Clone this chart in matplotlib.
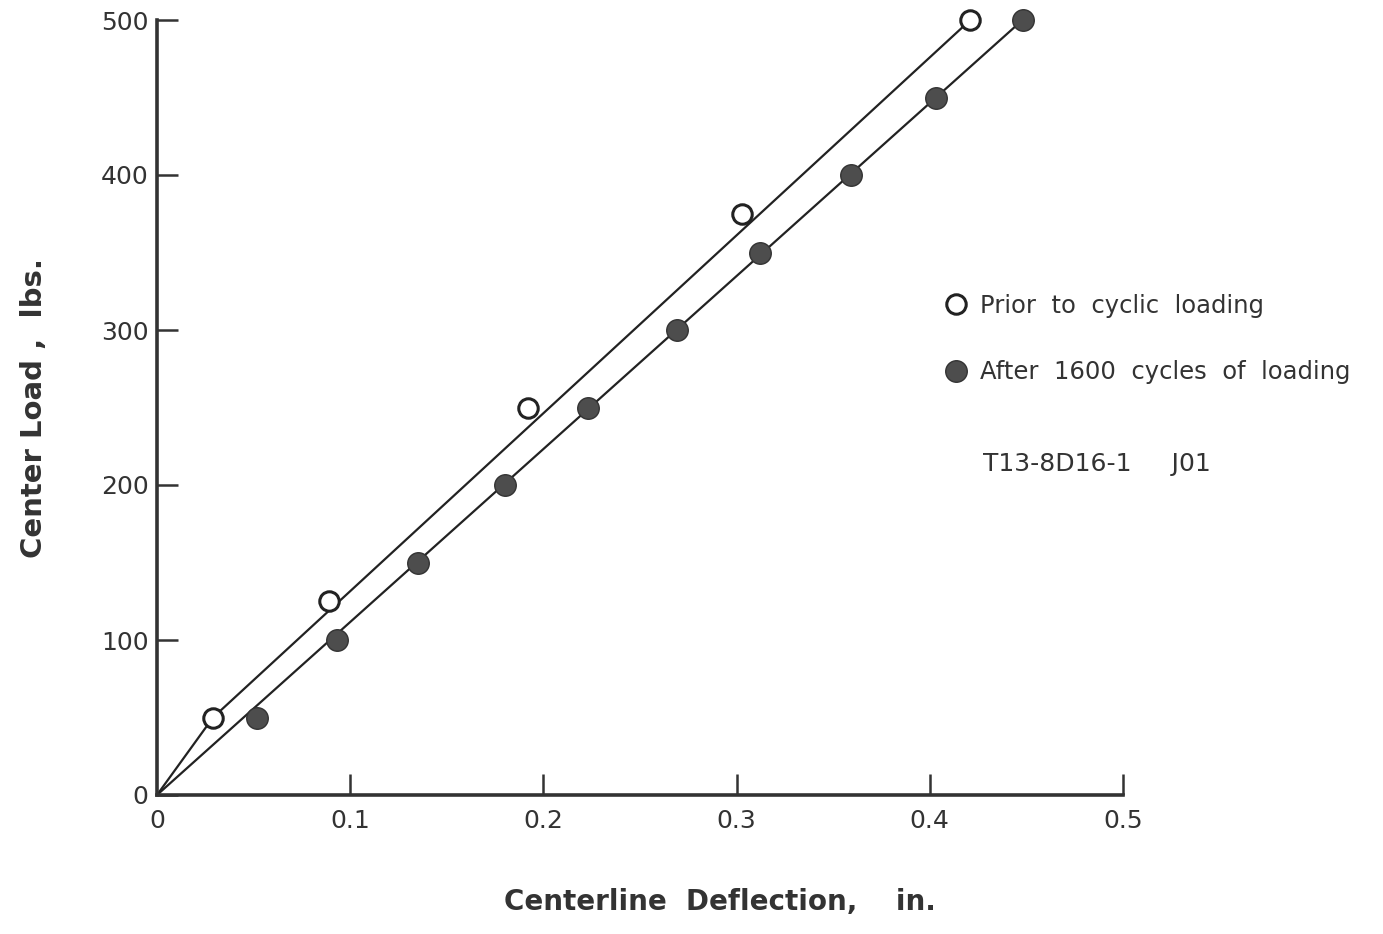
import matplotlib.pyplot as plt
import numpy as np

# deflection (in.) and center load (lbs)
defl_prior = [0.029, 0.089, 0.192, 0.303, 0.421]
load_prior = [50, 125, 250, 375, 500]

defl_after = [0.052, 0.093, 0.135, 0.180, 0.223, 0.269, 0.312, 0.359, 0.403, 0.448]
load_after = [50, 100, 150, 200, 250, 300, 350, 400, 450, 500]

xticks = [0, 0.1, 0.2, 0.3, 0.4, 0.5]
xticklabels = ["0", "0.1", "0.2", "0.3", "0.4", "0.5"]
yticks = [0, 100, 200, 300, 400, 500]

plt.rcParams['font.family'] = 'DejaVu Sans'
ink = '#333333'

fig = plt.figure(figsize=(13.83, 9.34), dpi=100)
ax = fig.add_axes([157/1383, 1-795/934, (1123-157)/1383, (795-20)/934])

# faired curves through the origin
ax.plot([0, defl_prior[0], defl_prior[-1]], [0, load_prior[0], load_prior[-1]],
        color='#222222', lw=1.6, zorder=2)
ax.plot([0, defl_after[-1]], [0, load_after[-1]], color='#222222', lw=1.6, zorder=2)

ax.plot(defl_prior, load_prior, 'o', ms=14, mfc='white', mec='#222222', mew=2.2,
        zorder=3, clip_on=False, label='Prior  to  cyclic  loading')
ax.plot(defl_after, load_after, 'o', ms=15.5, mfc='#4d4d4d', mec=ink, mew=1,
        zorder=3, clip_on=False, label='After  1600  cycles  of  loading')

ax.set_xlim(0, 0.5)
ax.set_ylim(0, 500)

for s in ['top', 'right']:
    ax.spines[s].set_visible(False)
for s in ['left', 'bottom']:
    ax.spines[s].set_linewidth(2.6)
    ax.spines[s].set_color(ink)

ax.set_xticks(xticks)
ax.set_xticklabels(xticklabels)
ax.set_yticks(yticks)
ax.tick_params(axis='both', direction='in', length=15, width=1.8, color=ink,
               labelsize=18, labelcolor=ink)
ax.tick_params(axis='x', pad=10)
ax.tick_params(axis='y', pad=6)
ax.xaxis.get_major_ticks()[0].tick1line.set_visible(False)

ax.set_xlabel("Centerline  Deflection,    in.", fontsize=20, fontweight='bold',
              color=ink)
ax.xaxis.set_label_coords(0.583, -0.12)
ax.set_ylabel("Center Load ,  lbs.", fontsize=21, fontweight='bold',
              color=ink, labelpad=38)

leg = ax.legend(loc='upper left', bbox_to_anchor=(0.792, 0.675), frameon=False,
                fontsize=17.5, handletextpad=0.5, labelspacing=1.75,
                markerscale=1.0, handlelength=1.0)
for t in leg.get_texts():
    t.set_color(ink)

ax.text(0.855, 0.427, "T13-8D16-1     J01", transform=ax.transAxes, fontsize=18,
        color=ink, va='center')

fig.savefig('out.png', dpi=100)
